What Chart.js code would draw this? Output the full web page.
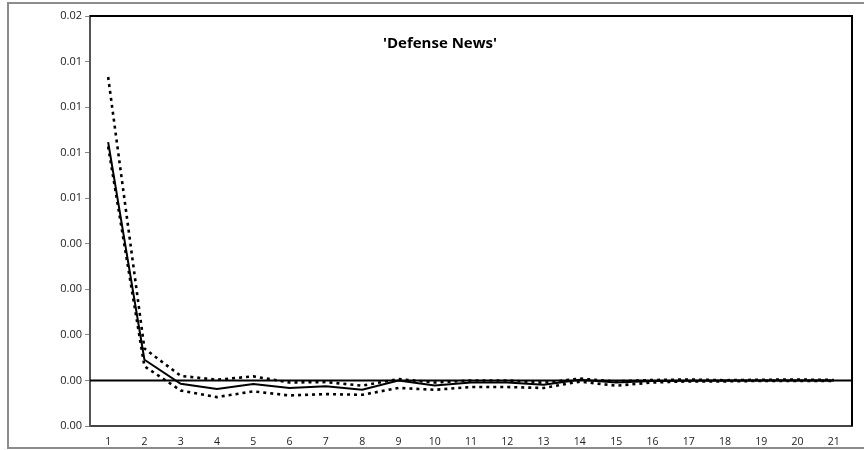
<!DOCTYPE html>
<html>
<head>
<meta charset="utf-8">
<script src="https://cdn.jsdelivr.net/npm/chart.js@4/dist/chart.umd.min.js"></script>
<style>
  html, body { margin: 0; padding: 0; background: #fff; }
  #wrap { width: 864px; height: 450px; position: relative; }
</style>
</head>
<body>
<div id="wrap"><canvas id="c" width="864" height="450"></canvas></div>
<script>
// Impulse response of 'Defense News' with its confidence band
const chartTitle = "'Defense News'";
const horizons = ['1','2','3','4','5','6','7','8','9','10','11','12','13','14','15','16','17','18','19','20','21'];
const response = [0.01046, 0.00091, -0.00015, -0.00038, -0.00016, -0.00033, -0.00026, -0.00041, 0.0, -0.00022,
                  -0.00009, -0.00009, -0.00019, 0.00003, -0.00009, -0.00002, -0.00001, 0.0, 0.0, 0.0, 0.0];
const upperBand = [0.01332, 0.00140, 0.00020, 0.00003, 0.00018, -0.00009, -0.00007, -0.00023, 0.00006, -0.00009,
                   0.0, 0.0, -0.00010, 0.00008, -0.00004, 0.00002, 0.00004, 0.00001, 0.00003, 0.00004, 0.00002];
const lowerBand = [0.01027, 0.00062, -0.00044, -0.00073, -0.00048, -0.00066, -0.00060, -0.00063, -0.00033, -0.00041,
                   -0.00029, -0.00029, -0.00033, -0.00005, -0.00023, -0.00009, -0.00004, -0.00004, -0.00002, -0.00002, -0.00002];
// axis labels, bottom to top
const yTickLabels = ['0.00','0.00','0.00','0.00','0.00','0.01','0.01','0.01','0.01','0.02'];
const yMin = -0.002, yMax = 0.016, yStep = 0.002;

const framePlugin = {
  id: 'frame',
  beforeDraw(chart) {
    const ctx = chart.ctx;
    ctx.save();
    ctx.fillStyle = '#fff';
    ctx.fillRect(0, 0, chart.width, chart.height);
    // outer chart border
    ctx.strokeStyle = '#8c8c8c';
    ctx.lineWidth = 2;
    ctx.beginPath();
    ctx.moveTo(870, 3);
    ctx.lineTo(8, 3);
    ctx.lineTo(8, 448);
    ctx.lineTo(870, 448);
    ctx.stroke();
    ctx.restore();
  },
  afterDatasetsDraw(chart) {
    const ctx = chart.ctx;
    const a = chart.chartArea;
    const y0 = chart.scales.y.getPixelForValue(0);
    ctx.save();
    // zero line
    ctx.strokeStyle = '#000';
    ctx.lineWidth = 2;
    ctx.beginPath();
    ctx.moveTo(a.left, y0);
    ctx.lineTo(a.right, y0);
    ctx.stroke();
    // top and right edges of the plot area
    ctx.lineWidth = 2;
    ctx.beginPath();
    ctx.moveTo(a.left, a.top);
    ctx.lineTo(a.right, a.top);
    ctx.lineTo(a.right, a.bottom);
    ctx.stroke();
    // title
    ctx.fillStyle = '#000';
    ctx.font = 'bold 15px "Open Sans"';
    ctx.textAlign = 'center';
    ctx.textBaseline = 'alphabetic';
    ctx.fillText(chartTitle, 440, 48);
    ctx.restore();
  }
};

new Chart(document.getElementById('c'), {
  type: 'line',
  data: {
    labels: horizons,
    datasets: [
      { label: 'Upper', data: upperBand, borderColor: '#000', borderWidth: 2.6, borderDash: [3, 4], pointRadius: 0, tension: 0, fill: false },
      { label: 'Lower', data: lowerBand, borderColor: '#000', borderWidth: 2.6, borderDash: [3, 4], pointRadius: 0, tension: 0, fill: false },
      { label: 'Response', data: response, borderColor: '#000', borderWidth: 2, pointRadius: 0, tension: 0, fill: false }
    ]
  },
  options: {
    responsive: false,
    animation: false,
    devicePixelRatio: 1,
    layout: { padding: { top: 16, right: 12, bottom: 0, left: 0 } },
    plugins: { legend: { display: false }, tooltip: { enabled: false }, title: { display: false } },
    scales: {
      x: {
        type: 'category',
        offset: true,
        grid: { display: false, drawTicks: false },
        border: { display: true, color: '#444', width: 2 },
        ticks: { color: '#222', font: { family: 'Open Sans', size: 10.5 }, padding: 10, maxRotation: 0, autoSkip: false },
        afterFit(s) { s.height = 24; }
      },
      y: {
        min: yMin, max: yMax,
        grid: { drawOnChartArea: false, drawTicks: true, tickLength: 5, color: '#888' },
        border: { display: true, color: '#555', width: 2 },
        ticks: {
          stepSize: yStep,
          color: '#222',
          font: { family: 'Open Sans', size: 11 },
          padding: 3,
          callback(value, index) { return yTickLabels[index]; }
        },
        afterFit(s) { s.width = 90; }
      }
    }
  },
  plugins: [framePlugin]
});
</script>
</body>
</html>
